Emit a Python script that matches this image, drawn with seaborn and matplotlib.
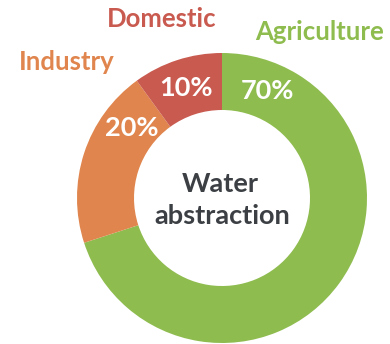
import matplotlib
matplotlib.use("Agg")
import matplotlib.pyplot as plt
import seaborn as sns

# Share of water abstraction by sector
sectors = ["Agriculture", "Industry", "Domestic"]
shares = [70, 20, 10]
colors = ["#8fbc4f", "#e0854d", "#c95a4f"]
center_lines = ["Water", "abstraction"]

sns.set_theme(style="white")
plt.rcParams["font.family"] = ["Lato", "DejaVu Sans"]

W, H = 390, 344
fig = plt.figure(figsize=(W / 100, H / 100), dpi=100)
ax = fig.add_axes([0, 0, 1, 1])

cx, cy, r = 222, H - 198, 145
ax.pie(shares, colors=colors, startangle=90, counterclock=False,
       center=(cx, cy), radius=r, frame=True,
       wedgeprops=dict(width=57, linewidth=0))
ax.set_xlim(0, W)
ax.set_ylim(0, H)
ax.set_aspect("equal")
ax.axis("off")

# sector names around the ring, shares on the ring
name_pos = {"Agriculture": (320, 32), "Industry": (67, 62), "Domestic": (162, 19)}
pct_pos = {"Agriculture": (267, 91), "Industry": (132, 128), "Domestic": (186, 88)}
for name, val, col in zip(sectors, shares, colors):
    x, y = name_pos[name]
    ax.text(x, H - y, name, color=col, fontsize=18.5, fontweight="bold",
            ha="center", va="center")
    x, y = pct_pos[name]
    ax.text(x, H - y, f"{val}%", color="white", fontsize=19.5, fontweight="bold",
            ha="center", va="center")

ax.text(220, H - 184, center_lines[0], color="#3c4044", fontsize=19.5,
        fontweight="bold", ha="center", va="center")
ax.text(222, H - 216, center_lines[1], color="#3c4044", fontsize=19.5,
        fontweight="bold", ha="center", va="center")

fig.savefig("out.png", dpi=100)
